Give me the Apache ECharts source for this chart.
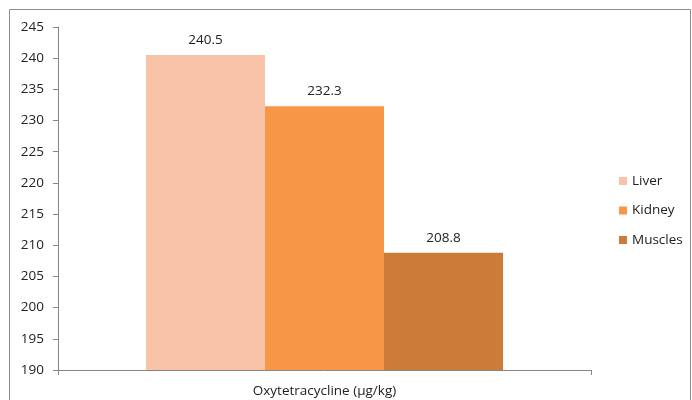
<!DOCTYPE html>
<html><head><meta charset="utf-8">
<script src="https://cdn.jsdelivr.net/npm/echarts@6/dist/echarts.min.js"></script>
<style>html,body{margin:0;padding:0;background:#fff}#c{width:692px;height:400px}</style>
</head><body><div id="c"></div>
<script>
const categories = ['Oxytetracycline (µg/kg)'];
const seriesNames = ['Liver', 'Kidney', 'Muscles'];
const liver = [240.5];
const kidney = [232.3];
const muscles = [208.8];
const colors = ['#F9C3A8', '#F79646', '#CC7B38'];
const values = [liver, kidney, muscles];
const font = '"Open Sans", sans-serif';
const fs = 13.5;

const chart = echarts.init(document.getElementById('c'), null, {renderer: 'canvas'});
chart.setOption({
  animation: false,
  graphic: [{type: 'rect', shape: {x: 9.5, y: 9.5, width: 681, height: 400}, style: {fill: 'none', stroke: '#8c8c8c', lineWidth: 1}}],
  legend: {
    orient: 'vertical', left: 614, top: 169, itemWidth: 8, itemHeight: 8, itemGap: 15.5,
    icon: 'rect',
    textStyle: {fontFamily: font, fontSize: fs, color: '#222'},
    data: seriesNames
  },
  grid: {left: 58, right: 101, top: 27, bottom: 30},
  xAxis: {
    type: 'category', data: categories,
    axisLine: {lineStyle: {color: '#868686'}},
    axisTick: {show: true, length: 5, lineStyle: {color: '#868686'}},
    axisLabel: {fontFamily: font, fontSize: fs, color: '#222', margin: 14}
  },
  yAxis: {
    type: 'value', min: 190, max: 245, interval: 5,
    axisLine: {show: true, lineStyle: {color: '#868686'}},
    axisTick: {show: true, length: 5, lineStyle: {color: '#868686'}},
    splitLine: {show: false},
    axisLabel: {fontFamily: font, fontSize: fs, color: '#222', margin: 14}
  },
  series: seriesNames.map((n, i) => ({
    name: n, type: 'bar', data: values[i],
    barGap: '0%', barCategoryGap: '33%',
    itemStyle: {color: colors[i]},
    label: {show: true, position: 'top', distance: 8, fontFamily: font, fontSize: fs, color: '#222', formatter: p => p.value.toFixed(1)}
  }))
});
</script></body></html>
